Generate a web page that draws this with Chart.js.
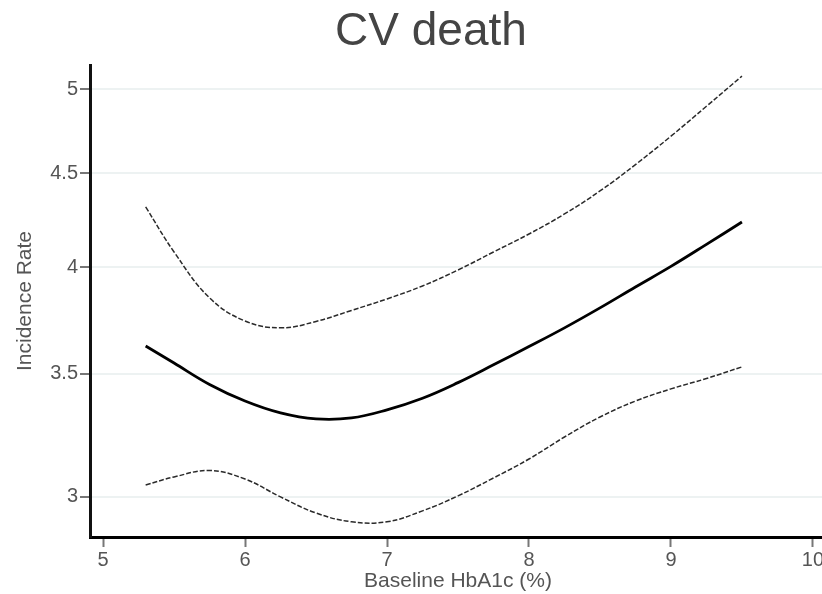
<!DOCTYPE html>
<html>
<head>
<meta charset="utf-8">
<script src="https://cdn.jsdelivr.net/npm/chart.js@4/dist/chart.umd.min.js"></script>
<style>
  html, body { margin: 0; padding: 0; background: #fff; overflow: hidden; }
  #wrap { width: 836px; height: 594px; }
</style>
</head>
<body>
<div id="wrap"><canvas id="c" width="836" height="594"></canvas></div>
<script>
// Baseline HbA1c (%) grid where the incidence rate curve is evaluated
const hba1c = [5.3, 5.5, 5.75, 6.0, 6.25, 6.5, 6.75, 7.0, 7.25, 7.5, 7.75, 8.0, 8.25, 8.5, 8.75, 9.0, 9.25, 9.5];
// Estimated incidence rate and its confidence band
const rateEstimate = [3.625, 3.548, 3.454, 3.383, 3.333, 3.308, 3.312, 3.346, 3.395, 3.462, 3.540, 3.622, 3.708, 3.802, 3.903, 4.005, 4.117, 4.234];
const upperBound  = [4.315, 4.078, 3.850, 3.740, 3.708, 3.738, 3.790, 3.845, 3.908, 3.987, 4.078, 4.171, 4.277, 4.402, 4.550, 4.715, 4.895, 5.084];
const lowerBound  = [3.045, 3.076, 3.101, 3.068, 3.000, 2.940, 2.908, 2.908, 2.948, 3.004, 3.072, 3.146, 3.234, 3.316, 3.383, 3.435, 3.480, 3.531];
// Axis ticks
const xTicks = [5, 6, 7, 8, 9, 10];
const yTicks = [3, 3.5, 4, 4.5, 5];

const toPoints = ys => hba1c.map((x, i) => ({ x: x, y: ys[i] }));

const FONT = "'Liberation Sans', Arial, sans-serif";

// Main heading drawn above the plot
const headingPlugin = {
  id: 'heading',
  afterDraw(chart) {
    const ctx = chart.ctx;
    ctx.save();
    ctx.font = '46px ' + FONT;
    ctx.fillStyle = '#444444';
    ctx.textAlign = 'center';
    ctx.textBaseline = 'alphabetic';
    ctx.fillText('CV death', 431, 45);
    ctx.restore();
  }
};

const bandStyle = {
  borderColor: '#2a2a2a',
  borderWidth: 1.5,
  borderDash: [5, 2],
  pointRadius: 0,
  tension: 0.4,
  fill: false
};

new Chart(document.getElementById('c'), {
  type: 'line',
  data: {
    datasets: [
      Object.assign({ label: 'Upper', data: toPoints(upperBound) }, bandStyle),
      {
        label: 'Estimate',
        data: toPoints(rateEstimate),
        borderColor: '#000000',
        borderWidth: 2.8,
        pointRadius: 0,
        tension: 0.4,
        fill: false
      },
      Object.assign({ label: 'Lower', data: toPoints(lowerBound) }, bandStyle)
    ]
  },
  options: {
    responsive: false,
    animation: false,
    layout: { padding: { top: 65, right: 10, bottom: 0, left: 0 } },
    plugins: {
      legend: { display: false },
      title: { display: false },
      tooltip: { enabled: false }
    },
    scales: {
      x: {
        type: 'linear',
        min: 4.908,
        max: 10.092,
        afterBuildTicks: s => { s.ticks = xTicks.map(v => ({ value: v })); },
        afterFit: s => { s.height = 57; },
        border: { display: true, color: '#000000', width: 3 },
        grid: {
          display: true,
          drawOnChartArea: false,
          drawTicks: true,
          tickLength: 10,
          tickColor: '#777777',
          tickWidth: 2
        },
        ticks: {
          autoSkip: false,
          maxRotation: 0,
          padding: 1,
          color: '#555555',
          font: { family: FONT, size: 20 },
          callback: v => String(v)
        },
        title: {
          display: true,
          text: 'Baseline HbA1c (%)',
          color: '#555555',
          font: { family: FONT, size: 21 },
          padding: { top: 0, bottom: 0 }
        }
      },
      y: {
        type: 'logarithmic',
        min: 2.853,
        max: 5.155,
        afterBuildTicks: s => { s.ticks = yTicks.map(v => ({ value: v })); },
        afterFit: s => { s.width = 90; },
        border: { display: true, color: '#111111', width: 3 },
        grid: {
          display: true,
          color: '#edf2f2',
          lineWidth: 2,
          drawTicks: true,
          tickLength: 10,
          tickColor: '#777777',
          tickWidth: 2
        },
        ticks: {
          autoSkip: false,
          padding: 2,
          color: '#555555',
          font: { family: FONT, size: 20 },
          callback: v => String(v)
        },
        title: {
          display: true,
          text: 'Incidence Rate',
          color: '#555555',
          font: { family: FONT, size: 21 },
          padding: { top: 13, bottom: 0 }
        }
      }
    }
  },
  plugins: [headingPlugin]
});
</script>
</body>
</html>
